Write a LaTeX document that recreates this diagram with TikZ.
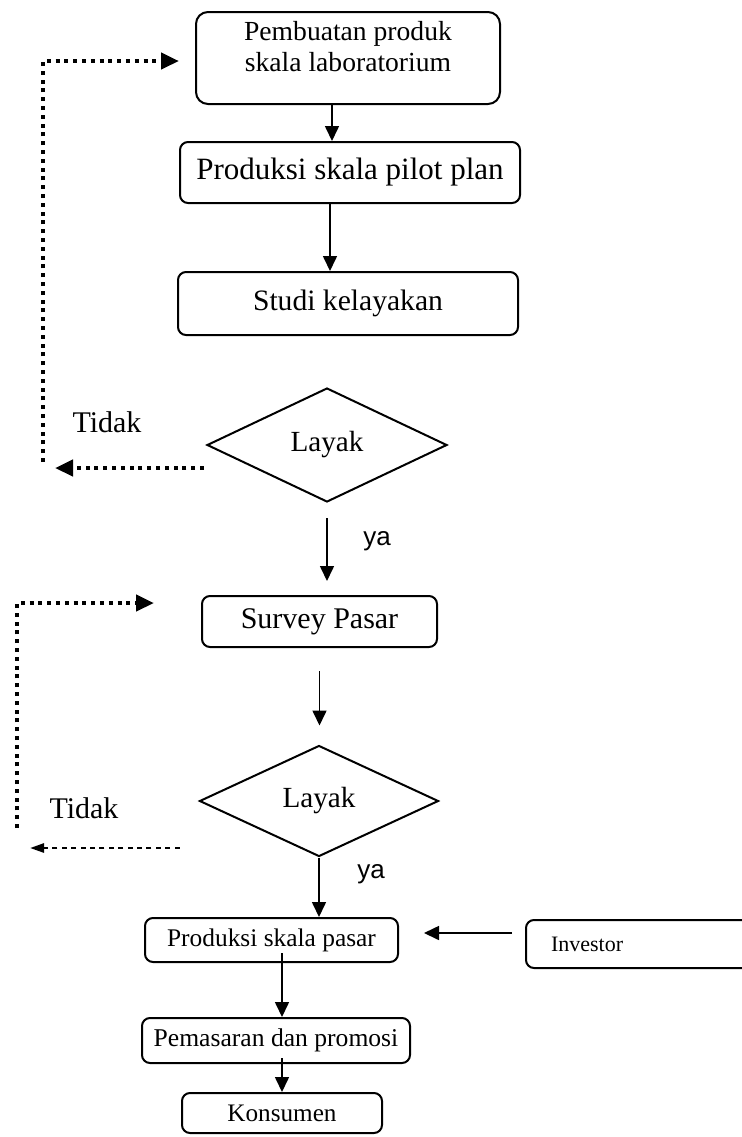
\documentclass[tikz,border=0pt]{standalone}
\usepackage{fontspec}
\setmainfont{Liberation Serif}
\newfontfamily\arialf{Liberation Sans}
\usetikzlibrary{arrows.meta,shapes.geometric,calc}
\begin{document}
\begin{tikzpicture}[x=0.5pt,y=-0.5pt,
  box/.style={draw, line width=1pt, rounded corners=4pt, inner sep=0pt, align=center},
  dec/.style={draw, diamond, line width=1pt, inner sep=0pt, font=\fontsize{14.6}{17}\selectfont},
  arr/.style={-{Triangle[length=7.5pt,width=7pt]}, line width=0.8pt},
  dotline/.style={line width=2.2pt, dash pattern=on 2pt off 2.4pt},
  dotarr/.style={dotline, -{Triangle[length=9pt,width=8pt]}},
  thinarr/.style={line width=1.3pt, dash pattern=on 2.5pt off 2.2pt, -{Triangle[length=7pt,width=4.5pt]}},
  lbl/.style={font=\fontsize{15}{17}\selectfont},
  yalbl/.style={font=\arialf\fontsize{13}{15}\selectfont}
]
\clip (0,0) rectangle (742,1137);
\fill[white] (0,0) rectangle (742,1137);

% nodes
\node[box, rounded corners=6pt, minimum width=152pt, minimum height=46pt,
      font=\fontsize{13.8}{15.5}\selectfont] (b1) at (348,58)
      {\raisebox{0.5pt}[0pt][0pt]{\begin{tabular}{@{}c@{}}Pembuatan produk\\skala laboratorium\end{tabular}}};
\node[box, minimum width=170pt, minimum height=30.5pt, font=\fontsize{15.5}{17}\selectfont] (b2) at (350,172.5) {Produksi skala pilot plan};
\node[box, minimum width=170pt, minimum height=31.5pt, font=\fontsize{14.8}{17}\selectfont] (b3) at (348,303.5) {Studi kelayakan};
\node[dec, minimum width=120pt, minimum height=57pt] (d1) at (327,445) {Layak};
\node[box, minimum width=117.5pt, minimum height=25.5pt, font=\fontsize{15}{17}\selectfont] (sp) at (319.5,621.5) {Survey Pasar};
\node[dec, minimum width=119.5pt, minimum height=55.5pt] (d2) at (319,801) {Layak};
\node[box, minimum width=126.5pt, minimum height=22pt, font=\fontsize{12.7}{15}\selectfont] (psp) at (271.5,940) {Produksi skala pasar};
\node[box, anchor=west, minimum height=24pt, text width=95pt, align=left, inner xsep=12.5pt, inner ysep=0pt,
      font=\fontsize{11}{13}\selectfont] (inv) at (525,944) {Investor};
\node[box, minimum width=134pt, minimum height=22.5pt, font=\fontsize{12.8}{15}\selectfont] (pem) at (276,1040.5) {Pemasaran dan promosi};
\node[box, minimum width=100pt, minimum height=20pt, font=\fontsize{12.6}{15}\selectfont] (kon) at (282,1113) {Konsumen};

% labels
\node[lbl] (t1) at (107,422) {Tidak};
\node[lbl] (t2) at (84,808) {Tidak};
\node[yalbl] (y1) at (377,541) {ya};
\node[yalbl] (y2) at (371,874) {ya};

% main flow
\draw[arr] ([xshift=-8pt]b1.south) -- ([xshift=-8pt]b1.south |- b2.north);
\draw[arr] ([xshift=-10pt]b2.south) -- ([xshift=-10pt]b2.south |- b3.north);
\draw[arr] ([yshift=-7.5pt]d1.south) -- ([yshift=7pt]d1.south |- sp.north);
\draw[arr] ([yshift=-11.5pt]sp.south) -- ([yshift=9.5pt]sp.south |- d2.north);
\draw[arr] (d2.south) -- (d2.south |- psp.north);
\draw[arr] ([xshift=-6.5pt,yshift=5.5pt]inv.west) -- ([xshift=12.5pt,yshift=5.5pt]inv.west -| psp.east);
\draw[arr] ([xshift=5.25pt,yshift=5pt]psp.south) -- ([xshift=5.25pt]psp.south |- pem.north);
\draw[arr] ([xshift=3pt,yshift=3pt]pem.south) -- ([xshift=3pt]pem.south |- kon.north);

% feedback loop 1
\coordinate (l1a) at (43,61);
\coordinate (l1b) at (43,462);
\coordinate (l1c) at (55,468);
\draw[dotarr] (l1b) -- (l1a) -- ([xshift=-8pt,yshift=-1.5pt]b1.west);
\draw[dotarr] ([xshift=-1pt,yshift=-11.5pt]d1.west) -- (l1c);

% feedback loop 2
\coordinate (l2a) at (17,603);
\coordinate (l2b) at (17,828);
\coordinate (l2c) at (30,848);
\draw[dotarr] (l2b) -- (l2a) -- ([xshift=-23.5pt,yshift=9.25pt]sp.west);
\draw[thinarr] ([xshift=-9.5pt,yshift=-23.5pt]d2.west) -- (l2c);
\end{tikzpicture}
\end{document}
